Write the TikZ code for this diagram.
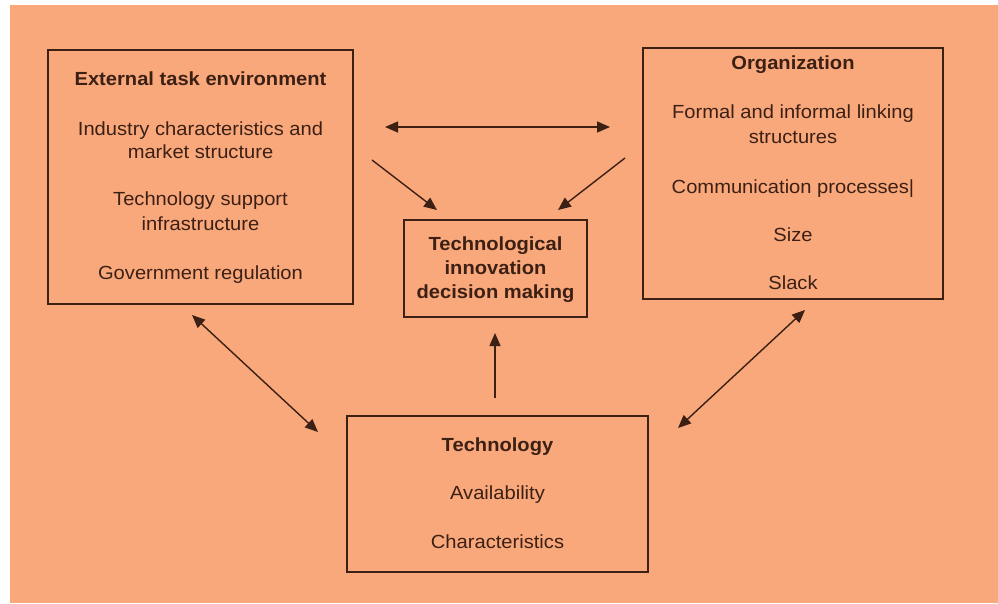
\documentclass[tikz,border=0pt]{standalone}
\usepackage{fontspec}
\setmainfont[FakeStretch=1.06]{Liberation Sans}
\usetikzlibrary{arrows.meta}
\definecolor{peach}{RGB}{249,168,124}
\definecolor{ink}{RGB}{60,32,20}
\begin{document}
\begin{tikzpicture}[x=1pt,y=-1pt,
  box/.style={draw=ink,line width=1.5pt,inner sep=0pt},
  txt/.style={anchor=base,text=ink,inner sep=0pt,font=\fontsize{19}{23}\selectfont},
  ttl/.style={txt,font=\fontsize{19}{23}\selectfont\bfseries},
  conn/.style={draw=ink,line width=1.4pt,-{Triangle[length=13pt,width=11pt]}},
  dconn/.style={draw=ink,line width=1.4pt,{Triangle[length=13pt,width=11pt]}-{Triangle[length=13pt,width=11pt]}}]
\useasboundingbox (0,0) rectangle (998,603);
\fill[white] (0,0) rectangle (998,603);
\fill[peach] (10,5) rectangle (998,603);

% boxes
\node[box,minimum width=305pt,minimum height=254pt] (ext) at (200.5,177) {};
\node[box,minimum width=300pt,minimum height=251pt] (org) at (793,173.5) {};
\node[box,minimum width=183pt,minimum height=97pt] (tidm) at (495.5,268.5) {};
\node[box,minimum width=301pt,minimum height=156pt] (tech) at (497.5,494) {};

% external task environment
\node[ttl] (e0) at (200.5,85) {External task environment};
\node[txt] (e1) at (200.5,135) {Industry characteristics and};
\node[txt] (e2) at (200.5,158) {market structure};
\node[txt] (e3) at (200.5,205) {Technology support};
\node[txt] (e4) at (200.5,230) {infrastructure};
\node[txt] (e5) at (200.5,279) {Government regulation};

% organization
\node[ttl] (o0) at (793,69) {Organization};
\node[txt] (o1) at (793,118) {Formal and informal linking};
\node[txt] (o2) at (793,143) {structures};
\node[txt] (o3) at (793,193) {Communication processes|};
\node[txt] (o4) at (793,241) {Size};
\node[txt] (o5) at (793,289) {Slack};

% center
\node[ttl] (c0) at (495.5,250) {Technological};
\node[ttl] (c1) at (495.5,274) {innovation};
\node[ttl] (c2) at (495.5,298) {decision making};

% technology
\node[ttl] (t0) at (497.5,451) {Technology};
\node[txt] (t1) at (497.5,499) {Availability};
\node[txt] (t2) at (497.5,548) {Characteristics};

% connector end points
\coordinate (h1) at (385,127);
\coordinate (h2) at (610,127);
\coordinate (dl1) at (372,160);
\coordinate (dl2) at (437,210);
\coordinate (dr1) at (625,158);
\coordinate (dr2) at (558,210);
\coordinate (v1) at (495,398);
\coordinate (v2) at (495,333);
\coordinate (l1) at (192,315);
\coordinate (l2) at (318,432);
\coordinate (r1) at (805,310);
\coordinate (r2) at (678,428);

\draw[dconn] (h1) -- (h2);
\draw[conn] (dl1) -- (dl2);
\draw[conn] (dr1) -- (dr2);
\draw[conn] (v1) -- (v2);
\draw[dconn] (l1) -- (l2);
\draw[dconn] (r1) -- (r2);
\end{tikzpicture}
\end{document}
